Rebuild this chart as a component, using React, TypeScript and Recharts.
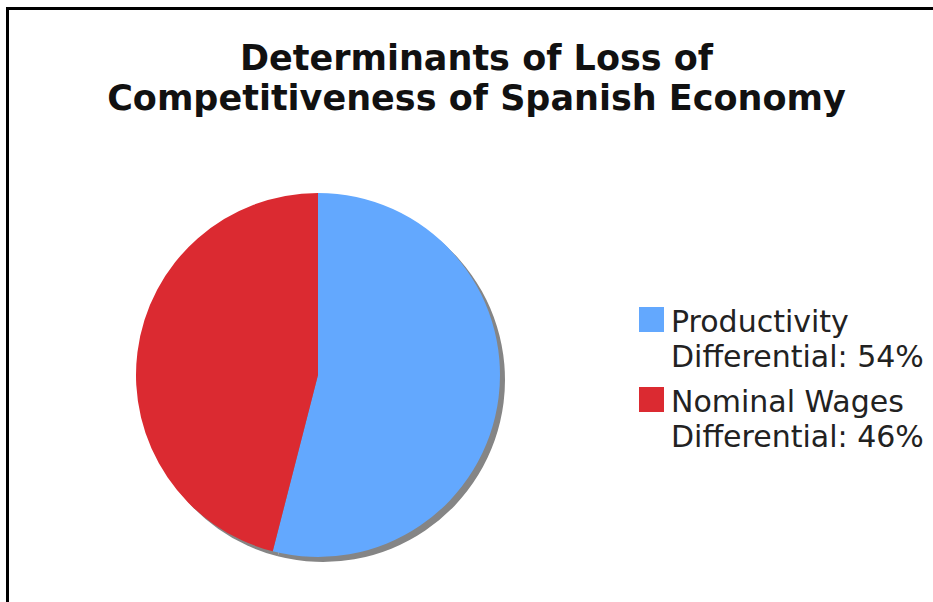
import React from "react";
import { PieChart, Pie, Cell, Legend } from "recharts";

const categories = ["Productivity Differential", "Nominal Wages Differential"];
const shares = [54, 46];
const legendLines = [
  ["Productivity", "Differential: 54%"],
  ["Nominal Wages", "Differential: 46%"],
];
const colors = ["#63A8FE", "#DB2A31"];
const titleLines = ["Determinants of Loss of", "Competitiveness of Spanish Economy"];

const data = categories.map((name, i) => ({ name, value: shares[i], lines: legendLines[i], color: colors[i] }));

const FONT = "'DejaVu Sans', Verdana, sans-serif";

function LegendContent() {
  return (
    <div style={{ fontFamily: FONT, fontSize: 30, color: "#222", lineHeight: "35px", textAlign: "left" }}>
      {data.map((d, i) => (
        <div key={d.name} style={{ display: "flex", alignItems: "flex-start", marginBottom: i === 0 ? 10 : 0 }}>
          <div style={{ width: 25, height: 25, background: d.color, marginTop: 3, marginRight: 7, flex: "none" }} />
          <div style={{ whiteSpace: "nowrap" }}>
            <div>{d.lines[0]}</div>
            <div>{d.lines[1]}</div>
          </div>
        </div>
      ))}
    </div>
  );
}

export default function App() {
  return (
    <div style={{ position: "absolute", left: 0, top: 0, width: 933, height: 602, overflow: "hidden", background: "#fff" }}>
      <div style={{ position: "absolute", left: 6, top: 7, width: 1200, height: 1200, border: "3px solid #000", boxSizing: "border-box" }} />
      <div style={{ position: "absolute", left: 0, top: 38, width: 953, textAlign: "center", fontFamily: FONT, fontWeight: "bold", fontSize: 35, lineHeight: "40px", color: "#111" }}>
        {titleLines.map((t) => (
          <div key={t}>{t}</div>
        ))}
      </div>
      <div style={{ position: "absolute", left: 0, top: 0 }}>
        <PieChart width={933} height={602} margin={{ top: 0, right: 0, bottom: 0, left: 0 }}>
          <Pie data={data} dataKey="value" nameKey="name" cx={323} cy={380} outerRadius={182} startAngle={90} endAngle={-270} isAnimationActive={false} stroke="none" legendType="none">
            {data.map((d) => (
              <Cell key={d.name} fill="#858585" />
            ))}
          </Pie>
          <Pie data={data} dataKey="value" nameKey="name" cx={318} cy={375} outerRadius={182} startAngle={90} endAngle={-270} isAnimationActive={false} stroke="none">
            {data.map((d) => (
              <Cell key={d.name} fill={d.color} />
            ))}
          </Pie>
          <Legend content={<LegendContent />} layout="vertical" wrapperStyle={{ position: "absolute", left: 639, top: 304, width: 300 }} />
        </PieChart>
      </div>
    </div>
  );
}
